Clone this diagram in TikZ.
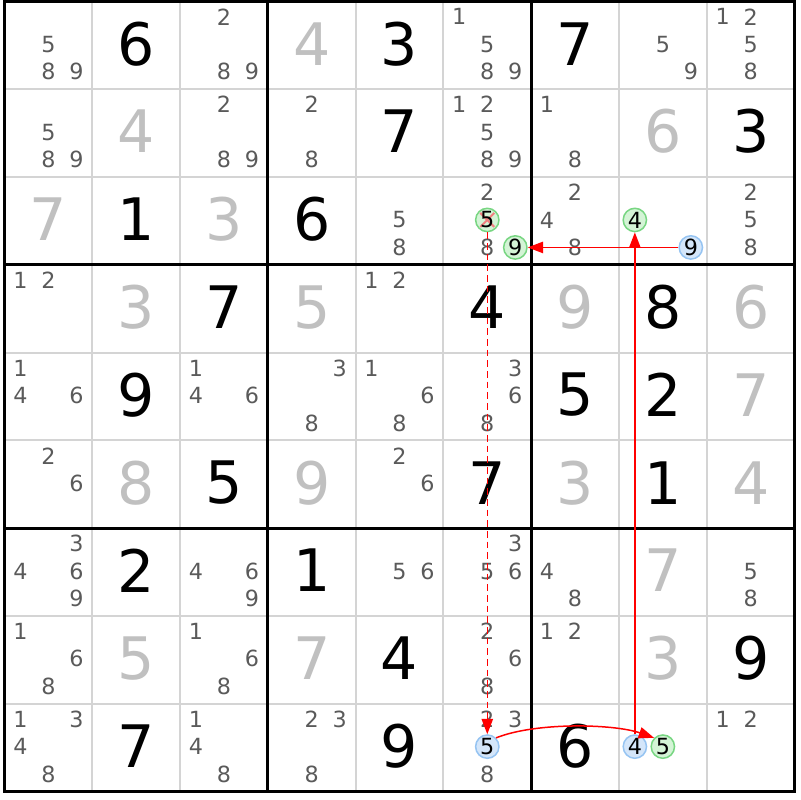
\documentclass[tikz,border=0pt]{standalone}
\usepackage{fontspec}
\setmainfont{DejaVu Sans}
\usetikzlibrary{arrows.meta}
\definecolor{candgray}{RGB}{90,90,90}
\definecolor{solvgray}{RGB}{192,192,192}
\definecolor{gridgray}{RGB}{212,212,212}
\definecolor{bluefill}{RGB}{212,230,250}
\definecolor{blueline}{RGB}{150,196,242}
\definecolor{greenfill}{RGB}{212,244,214}
\definecolor{greenline}{RGB}{120,214,130}
\definecolor{crossred}{RGB}{240,128,128}
\definecolor{linkred}{RGB}{255,0,0}
\tikzset{
	bigdigit/.style={font=\fontsize{50}{50}\selectfont, inner sep=0},
	cand/.style={font=\fontsize{19}{19}\selectfont, text=candgray, inner sep=0},
	ringed/.style={cand, text=black, circle, minimum size=7mm, line width=0.45mm},
	bluering/.style={ringed, fill=bluefill, draw=blueline},
	greenring/.style={ringed, fill=greenfill, draw=greenline},
	link/.style={draw=linkred, line width=0.45mm, -{Triangle[length=4.6mm,width=3.4mm, fill=linkred]}}
}
\def\csize{87.78}
\def\given(#1,#2)#3{\node[bigdigit] (g#1#2) at (#2*\csize-39.39, #1*\csize-44) {#3};}
\def\solved(#1,#2)#3{\node[bigdigit, text=solvgray] (s#1#2) at (#2*\csize-39.39, #1*\csize-44) {#3};}
\def\cands(#1,#2)#3{\foreach \k in {#3}{\node[cand] (c#1#2\k) at ({#2*\csize-39.39+(mod(\k-1,3)-1)*28}, {#1*\csize-43.4+(floor((\k-1)/3)-1)*27.5}) {\k};}}
\def\ring[#1](#2,#3,#4)#5{\node[#1] (#5) at ({#3*\csize-39.39+(mod(#4-1,3)-1)*28}, {#2*\csize-43.4+(floor((#4-1)/3)-1)*27.5}) {#4};}

\begin{document}
\begin{tikzpicture}[x=0.3mm, y=-0.3mm]
			%%%%% START %%%%%
			
			\useasboundingbox[fill=white] (0, 0) rectangle (800, 800);
			
			% grid
			\foreach \i in {1,2,4,5,7,8}{
				\draw[gridgray, line width=0.55mm] (4.5+\i*\csize, 1.5) -- (4.5+\i*\csize, 791.52);
				\draw[gridgray, line width=0.55mm] (4.5, 1.5+\i*\csize) -- (794.52, 1.5+\i*\csize);
			}
			\foreach \i in {0,3,6,9}{
				\draw[line width=0.9mm] (4.5+\i*\csize, 0.15) -- (4.5+\i*\csize, 792.87);
				\draw[line width=0.9mm] (3.15, 1.5+\i*\csize) -- (795.87, 1.5+\i*\csize);
			}
			
			% row 1
			\cands(1,1){5,8,9} \given(1,2){6} \cands(1,3){2,8,9}
			\solved(1,4){4} \given(1,5){3} \cands(1,6){1,5,8,9}
			\given(1,7){7} \cands(1,8){5,9} \cands(1,9){1,2,5,8}
			
			% row 2
			\cands(2,1){5,8,9} \solved(2,2){4} \cands(2,3){2,8,9}
			\cands(2,4){2,8} \given(2,5){7} \cands(2,6){1,2,5,8,9}
			\cands(2,7){1,8} \solved(2,8){6} \given(2,9){3}
			
			% row 3
			\solved(3,1){7} \given(3,2){1} \solved(3,3){3}
			\given(3,4){6} \cands(3,5){5,8} \cands(3,6){2,8}
			\cands(3,7){2,4,8} \cands(3,9){2,5,8}
			\ring[greenring, path picture={
				\draw[crossred, line width=0.6mm] ([shift={(-7,-7)}]path picture bounding box.center) -- ([shift={(7,7)}]path picture bounding box.center);
				\draw[crossred, line width=0.6mm] ([shift={(-7,7)}]path picture bounding box.center) -- ([shift={(7,-7)}]path picture bounding box.center);
			}](3,6,5){xfive}
			\ring[greenring](3,6,9){gnine}
			\ring[greenring](3,8,4){gfour}
			\ring[bluering](3,8,9){bnine}
			
			% row 4
			\cands(4,1){1,2} \solved(4,2){3} \given(4,3){7}
			\solved(4,4){5} \cands(4,5){1,2} \given(4,6){4}
			\solved(4,7){9} \given(4,8){8} \solved(4,9){6}
			
			% row 5
			\cands(5,1){1,4,6} \given(5,2){9} \cands(5,3){1,4,6}
			\cands(5,4){3,8} \cands(5,5){1,6,8} \cands(5,6){3,6,8}
			\given(5,7){5} \given(5,8){2} \solved(5,9){7}
			
			% row 6
			\cands(6,1){2,6} \solved(6,2){8} \given(6,3){5}
			\solved(6,4){9} \cands(6,5){2,6} \given(6,6){7}
			\solved(6,7){3} \given(6,8){1} \solved(6,9){4}
			
			% row 7
			\cands(7,1){3,4,6,9} \given(7,2){2} \cands(7,3){4,6,9}
			\given(7,4){1} \cands(7,5){5,6} \cands(7,6){3,5,6}
			\cands(7,7){4,8} \solved(7,8){7} \cands(7,9){5,8}
			
			% row 8
			\cands(8,1){1,6,8} \solved(8,2){5} \cands(8,3){1,6,8}
			\solved(8,4){7} \given(8,5){4} \cands(8,6){2,6,8}
			\cands(8,7){1,2} \solved(8,8){3} \given(8,9){9}
			
			% row 9
			\cands(9,1){1,3,4,8} \given(9,2){7} \cands(9,3){1,4,8}
			\cands(9,4){2,3,8} \given(9,5){9} \cands(9,6){2,3,8}
			\given(9,7){6} \cands(9,9){1,2}
			\ring[bluering](9,6,5){bfive}
			\ring[bluering](9,8,4){bfour}
			\ring[greenring](9,8,5){gfive}
			
			% chain
			\draw[link] (bnine) -- (gnine);
			\draw[link] (bfour) -- (gfour);
			\draw[link, dash pattern=on 2mm off 1.2mm] (xfive) -- (bfive);
			\draw[link] (bfive.45) .. controls +(40,-16) and +(-40,-14) .. (gfive.135);
			
			%%%%% END %%%%%
		\end{tikzpicture}
\end{document}
